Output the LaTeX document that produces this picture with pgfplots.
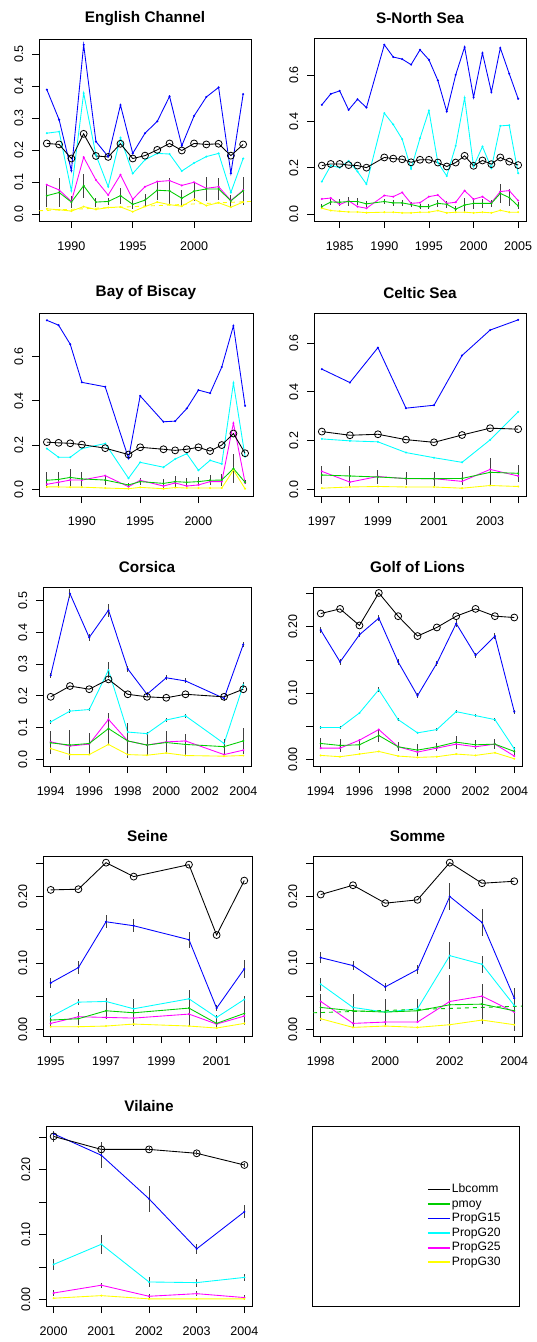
\documentclass[border=0pt]{standalone}
\usepackage{pgfplots}
\pgfplotsset{compat=1.18}
\usepackage{fontspec}
\setmainfont{Liberation Sans}
\definecolor{rgreen}{RGB}{0,205,0}
\definecolor{rblue}{RGB}{0,0,255}
\definecolor{rcyan}{RGB}{0,255,255}
\definecolor{rmag}{RGB}{255,0,255}
\definecolor{ryel}{RGB}{255,255,0}
\pgfplotsset{
  rp/.style={scale only axis, anchor=north west,
    tick align=outside, tick pos=left, major tick length=5.25pt,
    axis line style={line width=0.6pt},
    every tick/.style={black, line width=0.6pt},
    ticklabel style={font=\fontsize{9.4}{10}\selectfont},
    xticklabel style={yshift=-6.5pt},
    yticklabel style={xshift=-3pt, rotate=90, anchor=south},
    title style={font=\bfseries\fontsize{11.5}{13}\selectfont, at={(0.5,1)}, anchor=center, yshift=9pt}},
  lb/.style={black, line width=0.65pt, mark=o, mark size=2.6pt, mark options={line width=0.6pt}},
  lg/.style={rgreen, line width=0.65pt, mark=*, mark size=0.4pt},
  l15/.style={rblue, line width=0.65pt, mark=*, mark size=0.4pt},
  l20/.style={rcyan, line width=0.65pt, mark=*, mark size=0.4pt},
  l25/.style={rmag, line width=0.65pt, mark=*, mark size=0.4pt},
  l30/.style={ryel, line width=0.65pt, mark=*, mark size=0.4pt},
  eb/.style={error bars/.cd, y dir=both, y explicit, error mark=none,
    error bar style={black!75, line width=0.7pt}},
}
\begin{document}
\begin{tikzpicture}
\path (0,0) rectangle (399.75pt,-1006.5pt);

% English Channel
\begin{axis}[rp, at={(29.25pt,-29.25pt)}, width=159pt, height=136.5pt,
  title={English Channel}, xmin=1987.36, xmax=2004.64, ymin=-0.021, ymax=0.547,
  xtick={1990,1995,2000}, xticklabels={1990,1995,2000},
  ytick={0,0.1,0.2,0.3,0.4,0.5}, yticklabels={0.0,0.1,0.2,0.3,0.4,0.5}]
\addplot[l15] coordinates {(1988,0.389)(1989,0.295)(1990,0.136)(1991,0.529)(1992,0.227)(1993,0.180)(1994,0.341)(1995,0.190)(1996,0.253)(1997,0.290)(1998,0.368)(1999,0.214)(2000,0.307)(2001,0.366)(2002,0.396)(2003,0.128)(2004,0.375)};
\addplot[l20] coordinates {(1988,0.253)(1989,0.258)(1990,0.073)(1991,0.378)(1992,0.185)(1993,0.086)(1994,0.239)(1995,0.127)(1996,0.170)(1997,0.190)(1998,0.188)(1999,0.135)(2000,0.160)(2001,0.180)(2002,0.190)(2003,0.068)(2004,0.174)};
\addplot[l25] coordinates {(1988,0.092)(1989,0.076)(1990,0.040)(1991,0.178)(1992,0.107)(1993,0.060)(1994,0.123)(1995,0.047)(1996,0.086)(1997,0.102)(1998,0.105)(1999,0.090)(2000,0.100)(2001,0.081)(2002,0.086)(2003,0.043)(2004,0.075)};
\addplot[l30] coordinates {(1988,0.017)(1989,0.014)(1990,0.010)(1991,0.024)(1992,0.015)(1993,0.021)(1994,0.023)(1995,0.008)(1996,0.024)(1997,0.038)(1998,0.030)(1999,0.025)(2000,0.047)(2001,0.027)(2002,0.036)(2003,0.022)(2004,0.038)};
\addplot[ryel, dashed, line width=0.65pt] coordinates {(1987.36,0.011)(2004.64,0.040)};
\addplot[lg, eb] coordinates {(1988,0.058)+-(0,0.035)(1989,0.068)+-(0,0.045)(1990,0.038)+-(0,0.018)(1991,0.089)+-(0,0.038)(1992,0.038)+-(0,0.014)(1993,0.040)+-(0,0.012)(1994,0.058)+-(0,0.025)(1995,0.031)+-(0,0.015)(1996,0.044)+-(0,0.02)(1997,0.075)+-(0,0.03)(1998,0.073)+-(0,0.04)(1999,0.050)+-(0,0.025)(2000,0.072)+-(0,0.03)(2001,0.079)+-(0,0.038)(2002,0.079)+-(0,0.035)(2003,0.042)+-(0,0.018)(2004,0.073)+-(0,0.043)};
\addplot[lb] coordinates {(1988,0.221)(1989,0.218)(1990,0.174)(1991,0.251)(1992,0.182)(1993,0.179)(1994,0.220)(1995,0.174)(1996,0.183)(1997,0.201)(1998,0.221)(1999,0.199)(2000,0.221)(2001,0.218)(2002,0.220)(2003,0.183)(2004,0.218)};
\end{axis}

% S-North Sea
\begin{axis}[rp, at={(235.5pt,-28.5pt)}, width=159pt, height=137.25pt,
  title={S-North Sea}, xmin=1982.12, xmax=2005.88, ymin=-0.029, ymax=0.76,
  xtick={1985,1990,1995,2000,2005}, xticklabels={1985,1990,1995,2000,2005},
  ytick={0,0.2,0.4,0.6}, yticklabels={0.0,0.2,0.4,0.6}]
\addplot[l15] coordinates {(1983,0.472)(1984,0.519)(1985,0.532)(1986,0.450)(1987,0.496)(1988,0.460)(1990,0.731)(1991,0.678)(1992,0.669)(1993,0.645)(1994,0.709)(1995,0.666)(1996,0.577)(1997,0.443)(1998,0.601)(1999,0.721)(2000,0.504)(2001,0.695)(2002,0.527)(2003,0.717)(2004,0.606)(2005,0.498)};
\addplot[l20] coordinates {(1983,0.141)(1984,0.210)(1985,0.201)(1986,0.230)(1987,0.184)(1988,0.130)(1990,0.436)(1991,0.387)(1992,0.324)(1993,0.196)(1994,0.328)(1995,0.447)(1996,0.223)(1997,0.165)(1998,0.295)(1999,0.502)(2000,0.206)(2001,0.292)(2002,0.199)(2003,0.381)(2004,0.384)(2005,0.177)};
\addplot[l25] coordinates {(1983,0.066)(1984,0.070)(1985,0.042)(1986,0.058)(1987,0.033)(1988,0.026)(1990,0.081)(1991,0.076)(1992,0.094)(1993,0.047)(1994,0.050)(1995,0.076)(1996,0.083)(1997,0.047)(1998,0.052)(1999,0.102)(2000,0.065)(2001,0.076)(2002,0.050)(2003,0.098)(2004,0.102)(2005,0.059)};
\addplot[l30] coordinates {(1983,0.026)(1984,0.016)(1985,0.013)(1986,0.010)(1987,0.010)(1988,0.007)(1990,0.009)(1991,0.009)(1992,0.006)(1993,0.006)(1994,0.009)(1995,0.009)(1996,0.016)(1997,0.006)(1998,0.009)(1999,0.009)(2000,0.006)(2001,0.009)(2002,0.006)(2003,0.017)(2004,0.009)(2005,0.009)};
\addplot[lg, eb] coordinates {(1983,0.033)+-(0,0.012)(1984,0.053)+-(0,0.012)(1985,0.052)+-(0,0.015)(1986,0.055)+-(0,0.018)(1987,0.055)+-(0,0.015)(1988,0.045)+-(0,0.012)(1990,0.055)+-(0,0.012)(1991,0.049)+-(0,0.012)(1992,0.049)+-(0,0.012)(1993,0.042)+-(0,0.012)(1994,0.033)+-(0,0.012)(1995,0.033)+-(0,0.012)(1996,0.047)+-(0,0.015)(1997,0.043)+-(0,0.015)(1998,0.022)+-(0,0.012)(1999,0.040)+-(0,0.03)(2000,0.047)+-(0,0.025)(2001,0.047)+-(0,0.02)(2002,0.047)+-(0,0.015)(2003,0.090)+-(0,0.04)(2004,0.072)+-(0,0.035)(2005,0.036)+-(0,0.015)};
\addplot[lb] coordinates {(1983,0.210)(1984,0.217)(1985,0.217)(1986,0.212)(1987,0.210)(1988,0.201)(1990,0.245)(1991,0.240)(1992,0.237)(1993,0.224)(1994,0.235)(1995,0.235)(1996,0.223)(1997,0.206)(1998,0.223)(1999,0.252)(2000,0.209)(2001,0.232)(2002,0.216)(2003,0.245)(2004,0.227)(2005,0.212)};
\end{axis}

% Bay of Biscay
\begin{axis}[rp, at={(29.25pt,-234.75pt)}, width=160.5pt, height=137.25pt,
  title={Bay of Biscay}, xmin=1986.32, xmax=2004.68, ymin=-0.03, ymax=0.796,
  xtick={1990,1995,2000}, xticklabels={1990,1995,2000},
  ytick={0,0.2,0.4,0.6}, yticklabels={0.0,0.2,0.4,0.6}]
\addplot[l15] coordinates {(1987,0.763)(1988,0.741)(1989,0.655)(1990,0.483)(1992,0.463)(1994,0.140)(1995,0.422)(1997,0.305)(1998,0.308)(1999,0.365)(2000,0.448)(2001,0.434)(2002,0.552)(2003,0.738)(2004,0.377)};
\addplot[l20] coordinates {(1987,0.184)(1988,0.145)(1989,0.145)(1990,0.184)(1992,0.207)(1994,0.050)(1995,0.122)(1997,0.100)(1998,0.137)(1999,0.161)(2000,0.086)(2001,0.131)(2002,0.115)(2003,0.480)(2004,0.148)};
\addplot[l25] coordinates {(1987,0.023)(1988,0.032)(1989,0.042)(1990,0.042)(1992,0.062)(1994,0.012)(1995,0.041)(1997,0.015)(1998,0.029)(1999,0.015)(2000,0.020)(2001,0.035)(2002,0.035)(2003,0.299)(2004,0.030)};
\addplot[l30] coordinates {(1987,0.011)(1988,0.011)(1989,0.010)(1990,0.010)(1992,0.006)(1994,0.003)(1995,0.009)(1997,0.003)(1998,0.008)(1999,0.006)(2000,0.006)(2001,0.006)(2002,0.006)(2003,0.087)(2004,0.003)};
\addplot[lg, eb] coordinates {(1987,0.041)+-(0,0.037)(1988,0.045)+-(0,0.032)(1989,0.054)+-(0,0.038)(1990,0.047)+-(0,0.03)(1992,0.042)+-(0,0.022)(1994,0.020)+-(0,0.01)(1995,0.035)+-(0,0.015)(1997,0.027)+-(0,0.02)(1998,0.035)+-(0,0.025)(1999,0.032)+-(0,0.02)(2000,0.035)+-(0,0.02)(2001,0.041)+-(0,0.022)(2002,0.042)+-(0,0.027)(2003,0.094)+-(0,0.065)(2004,0.032)+-(0,0.01)};
\addplot[lb] coordinates {(1987,0.213)(1988,0.210)(1989,0.208)(1990,0.202)(1992,0.186)(1994,0.157)(1995,0.190)(1997,0.181)(1998,0.176)(1999,0.181)(2000,0.190)(2001,0.173)(2002,0.200)(2003,0.252)(2004,0.163)};
\end{axis}

% Celtic Sea
\begin{axis}[rp, at={(235.5pt,-234.75pt)}, width=159pt, height=137.25pt,
  title={Celtic Sea}, xmin=1996.72, xmax=2004.28, ymin=-0.027, ymax=0.723,
  xtick={1997,...,2004}, xticklabels={1997,,1999,,2001,,2003,},
  ytick={0,0.2,0.4,0.6}, yticklabels={0.0,0.2,0.4,0.6}]
\addplot[l15] coordinates {(1997,0.493)(1998,0.438)(1999,0.581)(2000,0.333)(2001,0.345)(2002,0.549)(2003,0.653)(2004,0.695)};
\addplot[l20] coordinates {(1997,0.207)(1998,0.199)(1999,0.195)(2000,0.151)(2001,0.130)(2002,0.111)(2003,0.203)(2004,0.318)};
\addplot[l25] coordinates {(1997,0.074)(1998,0.030)(1999,0.053)(2000,0.044)(2001,0.044)(2002,0.033)(2003,0.082)(2004,0.055)};
\addplot[l30] coordinates {(1997,0.005)(1998,0.010)(1999,0.012)(2000,0.010)(2001,0.010)(2002,0.005)(2003,0.016)(2004,0.012)};
\addplot[lg, eb] coordinates {(1997,0.059)+-(0,0.035)(1998,0.055)+-(0,0.04)(1999,0.051)+-(0,0.03)(2000,0.045)+-(0,0.028)(2001,0.044)+-(0,0.028)(2002,0.045)+-(0,0.028)(2003,0.070)+-(0,0.058)(2004,0.066)+-(0,0.035)};
\addplot[lb] coordinates {(1997,0.237)(1998,0.222)(1999,0.226)(2000,0.204)(2001,0.193)(2002,0.223)(2003,0.251)(2004,0.247)};
\end{axis}

% Corsica
\begin{axis}[rp, at={(32.25pt,-440.25pt)}, width=156pt, height=134.25pt,
  title={Corsica}, xmin=1993.6, xmax=2004.4, ymin=-0.021, ymax=0.543,
  xtick={1994,1996,...,2004}, xticklabels={1994,1996,1998,2000,2002,2004},
  ytick={0,0.1,0.2,0.3,0.4,0.5}, yticklabels={0.0,0.1,0.2,0.3,0.4,0.5}]
\addplot[l15, eb] coordinates {(1994,0.265)+-(0,0.008)(1995,0.522)+-(0,0.015)(1996,0.384)+-(0,0.01)(1997,0.470)+-(0,0.02)(1998,0.285)+-(0,0.01)(1999,0.205)+-(0,0.008)(2000,0.257)+-(0,0.008)(2001,0.247)+-(0,0.008)(2003,0.192)+-(0,0.008)(2004,0.362)+-(0,0.008)};
\addplot[l20, eb] coordinates {(1994,0.118)+-(0,0.006)(1995,0.152)+-(0,0.006)(1996,0.157)+-(0,0.006)(1997,0.281)+-(0,0.025)(1998,0.086)+-(0,0.006)(1999,0.081)+-(0,0.006)(2000,0.124)+-(0,0.006)(2001,0.137)+-(0,0.006)(2003,0.050)+-(0,0.006)(2004,0.234)+-(0,0.01)};
\addplot[l25] coordinates {(1994,0.055)(1995,0.042)(1996,0.048)(1997,0.126)(1998,0.058)(1999,0.045)(2000,0.055)(2001,0.058)(2003,0.015)(2004,0.029)};
\addplot[l30] coordinates {(1994,0.034)(1995,0.015)(1996,0.015)(1997,0.047)(1998,0.015)(1999,0.013)(2000,0.020)(2001,0.012)(2003,0.010)(2004,0.012)};
\addplot[lg, eb] coordinates {(1994,0.052)+-(0,0.036)(1995,0.045)+-(0,0.048)(1996,0.050)+-(0,0.034)(1997,0.097)+-(0,0.05)(1998,0.058)+-(0,0.055)(1999,0.045)+-(0,0.03)(2000,0.053)+-(0,0.035)(2001,0.047)+-(0,0.033)(2003,0.040)+-(0,0.025)(2004,0.058)+-(0,0.04)};
\addplot[lb] coordinates {(1994,0.197)(1995,0.231)(1996,0.221)(1997,0.252)(1998,0.205)(1999,0.197)(2000,0.194)(2001,0.205)(2003,0.197)(2004,0.221)};
\end{axis}

% Golf of Lions
\begin{axis}[rp, at={(234.75pt,-440.25pt)}, width=156.75pt, height=134.25pt,
  title={Golf of Lions}, xmin=1993.6, xmax=2004.4, ymin=-0.01, ymax=0.26,
  xtick={1994,1996,...,2004}, xticklabels={1994,1996,1998,2000,2002,2004},
  ytick={0,0.05,0.1,0.15,0.2,0.25}, yticklabels={0.00,,0.10,,0.20,}]
\addplot[l15, eb] coordinates {(1994,0.195)+-(0,0.004)(1995,0.147)+-(0,0.004)(1996,0.188)+-(0,0.004)(1997,0.213)+-(0,0.005)(1998,0.147)+-(0,0.004)(1999,0.096)+-(0,0.004)(2000,0.145)+-(0,0.004)(2001,0.205)+-(0,0.005)(2002,0.157)+-(0,0.004)(2003,0.186)+-(0,0.004)(2004,0.072)+-(0,0.003)};
\addplot[l20, eb] coordinates {(1994,0.048)+-(0,0.002)(1995,0.048)+-(0,0.002)(1996,0.070)+-(0,0.002)(1997,0.105)+-(0,0.004)(1998,0.060)+-(0,0.002)(1999,0.040)+-(0,0.002)(2000,0.045)+-(0,0.002)(2001,0.072)+-(0,0.002)(2002,0.066)+-(0,0.002)(2003,0.060)+-(0,0.002)(2004,0.016)+-(0,0.002)};
\addplot[l25] coordinates {(1994,0.017)(1995,0.017)(1996,0.029)(1997,0.045)(1998,0.019)(1999,0.011)(2000,0.017)(2001,0.023)(2002,0.019)(2003,0.023)(2004,0.005)};
\addplot[l30] coordinates {(1994,0.006)(1995,0.004)(1996,0.008)(1997,0.012)(1998,0.005)(1999,0.003)(2000,0.004)(2001,0.008)(2002,0.006)(2003,0.010)(2004,0.001)};
\addplot[lg, eb] coordinates {(1994,0.024)+-(0,0.008)(1995,0.021)+-(0,0.01)(1996,0.022)+-(0,0.008)(1997,0.036)+-(0,0.01)(1998,0.019)+-(0,0.007)(1999,0.014)+-(0,0.009)(2000,0.019)+-(0,0.006)(2001,0.026)+-(0,0.01)(2002,0.022)+-(0,0.007)(2003,0.023)+-(0,0.007)(2004,0.012)+-(0,0.006)};
\addplot[lb] coordinates {(1994,0.220)(1995,0.227)(1996,0.202)(1997,0.251)(1998,0.216)(1999,0.186)(2000,0.199)(2001,0.216)(2002,0.227)(2003,0.216)(2004,0.214)};
\end{axis}

% Seine
\begin{axis}[rp, at={(32.25pt,-642pt)}, width=156.75pt, height=135pt,
  title={Seine}, xmin=1994.72, xmax=2002.28, ymin=-0.01, ymax=0.261,
  xtick={1995,...,2002}, xticklabels={1995,,1997,,1999,,2001,},
  ytick={0,0.05,0.1,0.15,0.2,0.25}, yticklabels={0.00,,0.10,,0.20,}]
\addplot[l15, eb] coordinates {(1995,0.070)+-(0,0.008)(1996,0.093)+-(0,0.01)(1997,0.162)+-(0,0.01)(1998,0.156)+-(0,0.01)(2000,0.135)+-(0,0.012)(2001,0.032)+-(0,0.005)(2002,0.091)+-(0,0.013)};
\addplot[l20, eb] coordinates {(1995,0.019)+-(0,0.005)(1996,0.041)+-(0,0.005)(1997,0.042)+-(0,0.005)(1998,0.031)+-(0,0.005)(2000,0.046)+-(0,0.005)(2001,0.018)+-(0,0.003)(2002,0.045)+-(0,0.005)};
\addplot[l25] coordinates {(1995,0.009)(1996,0.019)(1997,0.018)(1998,0.017)(2000,0.023)(2001,0.008)(2002,0.020)};
\addplot[l30] coordinates {(1995,0.004)(1996,0.004)(1997,0.005)(1998,0.008)(2000,0.005)(2001,0.002)(2002,0.009)};
\addplot[lg, eb] coordinates {(1995,0.014)+-(0,0.01)(1996,0.016)+-(0,0.01)(1997,0.028)+-(0,0.012)(1998,0.025)+-(0,0.02)(2000,0.032)+-(0,0.027)(2001,0.009)+-(0,0.008)(2002,0.024)+-(0,0.018)};
\addplot[lb] coordinates {(1995,0.210)(1996,0.211)(1997,0.251)(1998,0.230)(2000,0.248)(2001,0.142)(2002,0.224)};
\end{axis}

% Somme
\begin{axis}[rp, at={(234.75pt,-642pt)}, width=156.75pt, height=135pt,
  title={Somme}, xmin=1997.76, xmax=2004.24, ymin=-0.01, ymax=0.261,
  xtick={1998,...,2004}, xticklabels={1998,,2000,,2002,,2004},
  ytick={0,0.05,0.1,0.15,0.2,0.25}, yticklabels={0.00,,0.10,,0.20,}]
\addplot[l15, eb] coordinates {(1998,0.108)+-(0,0.008)(1999,0.096)+-(0,0.007)(2000,0.064)+-(0,0.006)(2001,0.090)+-(0,0.007)(2002,0.200)+-(0,0.02)(2003,0.161)+-(0,0.02)(2004,0.047)+-(0,0.015)};
\addplot[l20, eb] coordinates {(1998,0.068)+-(0,0.01)(1999,0.033)+-(0,0.01)(2000,0.026)+-(0,0.006)(2001,0.031)+-(0,0.006)(2002,0.111)+-(0,0.02)(2003,0.098)+-(0,0.013)(2004,0.036)+-(0,0.008)};
\addplot[l25] coordinates {(1998,0.042)(1999,0.009)(2000,0.011)(2001,0.011)(2002,0.042)(2003,0.050)(2004,0.026)};
\addplot[l30] coordinates {(1998,0.016)(1999,0.003)(2000,0.005)(2001,0.003)(2002,0.007)(2003,0.014)(2004,0.007)};
\addplot[rgreen, dashed, line width=0.65pt] coordinates {(1997.76,0.025)(2004.24,0.035)};
\addplot[lg, eb] coordinates {(1998,0.033)+-(0,0.02)(1999,0.028)+-(0,0.025)(2000,0.026)+-(0,0.02)(2001,0.028)+-(0,0.017)(2002,0.037)+-(0,0.045)(2003,0.038)+-(0,0.03)(2004,0.028)+-(0,0.03)};
\addplot[lb] coordinates {(1998,0.203)(1999,0.217)(2000,0.190)(2001,0.195)(2002,0.251)(2003,0.220)(2004,0.223)};
\end{axis}

% Vilaine
\begin{axis}[rp, at={(34.5pt,-844.5pt)}, width=154.5pt, height=135pt,
  title={Vilaine}, xmin=1999.84, xmax=2004.16, ymin=-0.01, ymax=0.267,
  xtick={2000,...,2004}, xticklabels={2000,2001,2002,2003,2004},
  ytick={0,0.05,0.1,0.15,0.2,0.25}, yticklabels={0.00,,0.10,,0.20,}]
\addplot[l15, eb] coordinates {(2000,0.255)+-(0,0.005)(2001,0.222)+-(0,0.02)(2002,0.155)+-(0,0.02)(2003,0.078)+-(0,0.008)(2004,0.135)+-(0,0.01)};
\addplot[l20, eb] coordinates {(2000,0.054)+-(0,0.008)(2001,0.085)+-(0,0.015)(2002,0.027)+-(0,0.008)(2003,0.026)+-(0,0.006)(2004,0.034)+-(0,0.005)};
\addplot[l25, eb] coordinates {(2000,0.010)+-(0,0.004)(2001,0.022)+-(0,0.004)(2002,0.005)+-(0,0.004)(2003,0.009)+-(0,0.004)(2004,0.003)+-(0,0.004)};
\addplot[l30] coordinates {(2000,0.002)(2001,0.006)(2002,0.001)(2003,0.001)(2004,0.001)};
\addplot[lb, eb] coordinates {(2000,0.251)+-(0,0.008)(2001,0.231)+-(0,0.01)(2002,0.231)+-(0,0.003)(2003,0.225)+-(0,0.003)(2004,0.207)+-(0,0.003)};
\end{axis}

% legend panel
\begin{axis}[rp, at={(234pt,-844.5pt)}, width=155.25pt, height=135pt,
  xmin=0, xmax=1, ymin=0, ymax=1, xtick=\empty, ytick=\empty,
  legend cell align=left,
  legend image code/.code={\draw[#1] (0pt,0pt) -- (16.5pt,0pt);},
  legend style={at={(0.535,0.445)}, anchor=west, draw=none, fill=none,
    font=\fontsize{9.1}{10}\selectfont, row sep=0pt,
    nodes={inner sep=1pt, text height=6.9pt, text depth=2pt}}]
\addlegendimage{black, line width=1pt}\addlegendentry{Lbcomm}
\addlegendimage{rgreen, line width=1.2pt}\addlegendentry{pmoy}
\addlegendimage{rblue, line width=1.2pt}\addlegendentry{PropG15}
\addlegendimage{rcyan, line width=1.2pt}\addlegendentry{PropG20}
\addlegendimage{rmag, line width=1.2pt}\addlegendentry{PropG25}
\addlegendimage{ryel, line width=1.2pt}\addlegendentry{PropG30}
\end{axis}
\end{tikzpicture}
\end{document}
